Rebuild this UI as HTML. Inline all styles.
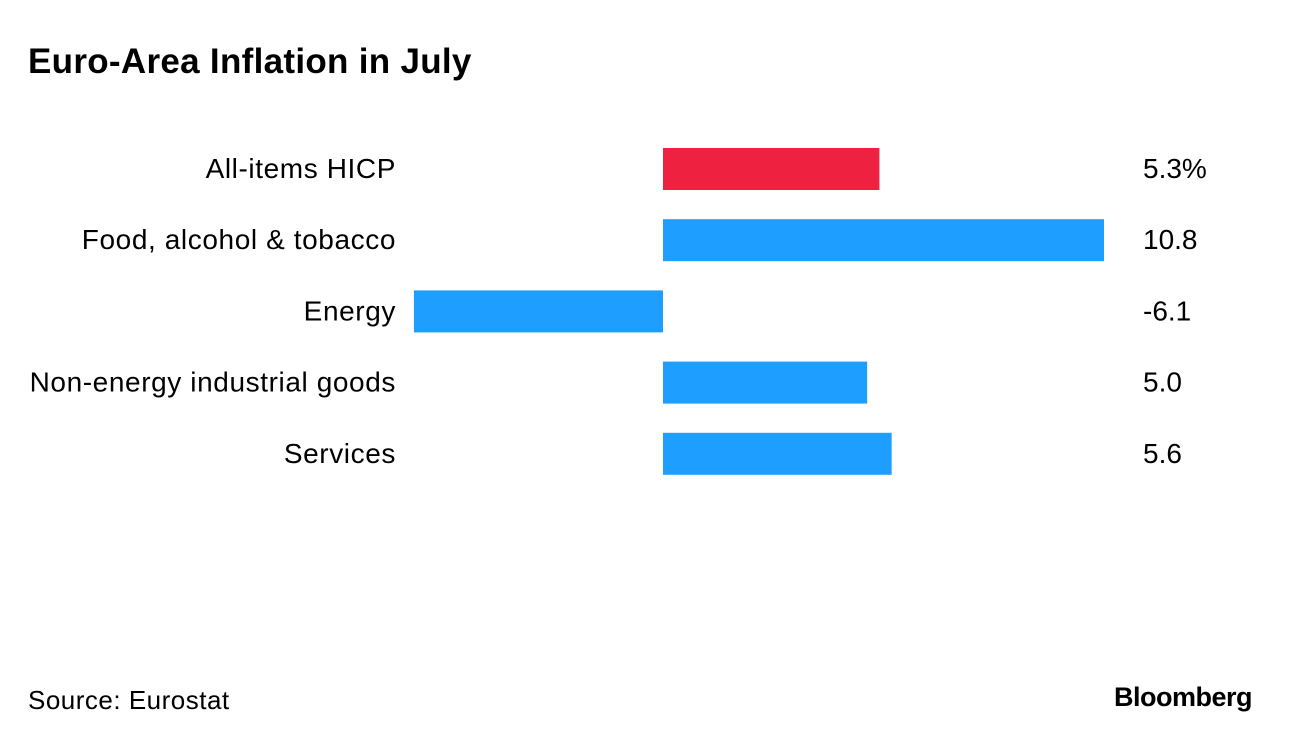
<!DOCTYPE html>
<html><head><meta charset="utf-8">
<style>
body{margin:0;background:#fff;font-family:"Liberation Sans",Arial,sans-serif;color:#000;}
#wrap{position:relative;width:1292px;height:742px;overflow:hidden;}
.title{position:absolute;left:28px;top:42px;font-size:35px;font-weight:bold;letter-spacing:0.3px;}
.src{position:absolute;left:28px;top:685px;font-size:26px;letter-spacing:0.5px;}
.logo{position:absolute;right:40px;top:682px;font-size:27px;font-weight:bold;letter-spacing:-0.5px;}
</style></head><body>
<div id="wrap">
<div class="title">Euro-Area Inflation in July</div>
<svg id="chart" width="1292" height="742" style="position:absolute;left:0;top:0"></svg>
<div class="src">Source: Eurostat</div>
<div class="logo">Bloomberg</div>
</div>
<script>
const categories=["All-items HICP","Food, alcohol & tobacco","Energy","Non-energy industrial goods","Services"];
const values=[5.3,10.8,-6.1,5.0,5.6];
const valueLabels=["5.3%","10.8","-6.1","5.0","5.6"];
const colors=["#ee2240","#1e9fff","#1e9fff","#1e9fff","#1e9fff"];
const NS="http://www.w3.org/2000/svg";
const svg=document.getElementById('chart');
const x0=663, scale=(1104-663)/10.8;
const x=v=>x0+v*scale;
const yTop=i=>148+i*71.2, bh=42;
categories.forEach((c,i)=>{
  const r=document.createElementNS(NS,'rect');
  const a=x(Math.min(0,values[i])), b=x(Math.max(0,values[i]));
  r.setAttribute('x',a);r.setAttribute('y',yTop(i));r.setAttribute('width',b-a);r.setAttribute('height',bh);
  r.setAttribute('fill',colors[i]);
  
  
  svg.appendChild(r);
  const t=document.createElementNS(NS,'text');
  t.setAttribute('x',396);t.setAttribute('y',yTop(i)+bh/2+9);t.setAttribute('text-anchor','end');
  t.setAttribute('font-size','28');t.setAttribute('letter-spacing','0.6');t.setAttribute('font-family','Liberation Sans, Arial, sans-serif');
  t.textContent=c;
  
  
  svg.appendChild(t);
  const v=document.createElementNS(NS,'text');
  v.setAttribute('x',1143);v.setAttribute('y',yTop(i)+bh/2+9);
  v.setAttribute('font-size','28');v.setAttribute('font-family','Liberation Sans, Arial, sans-serif');
  v.textContent=valueLabels[i];
  
  
  svg.appendChild(v);
});
</script>
</body></html>
